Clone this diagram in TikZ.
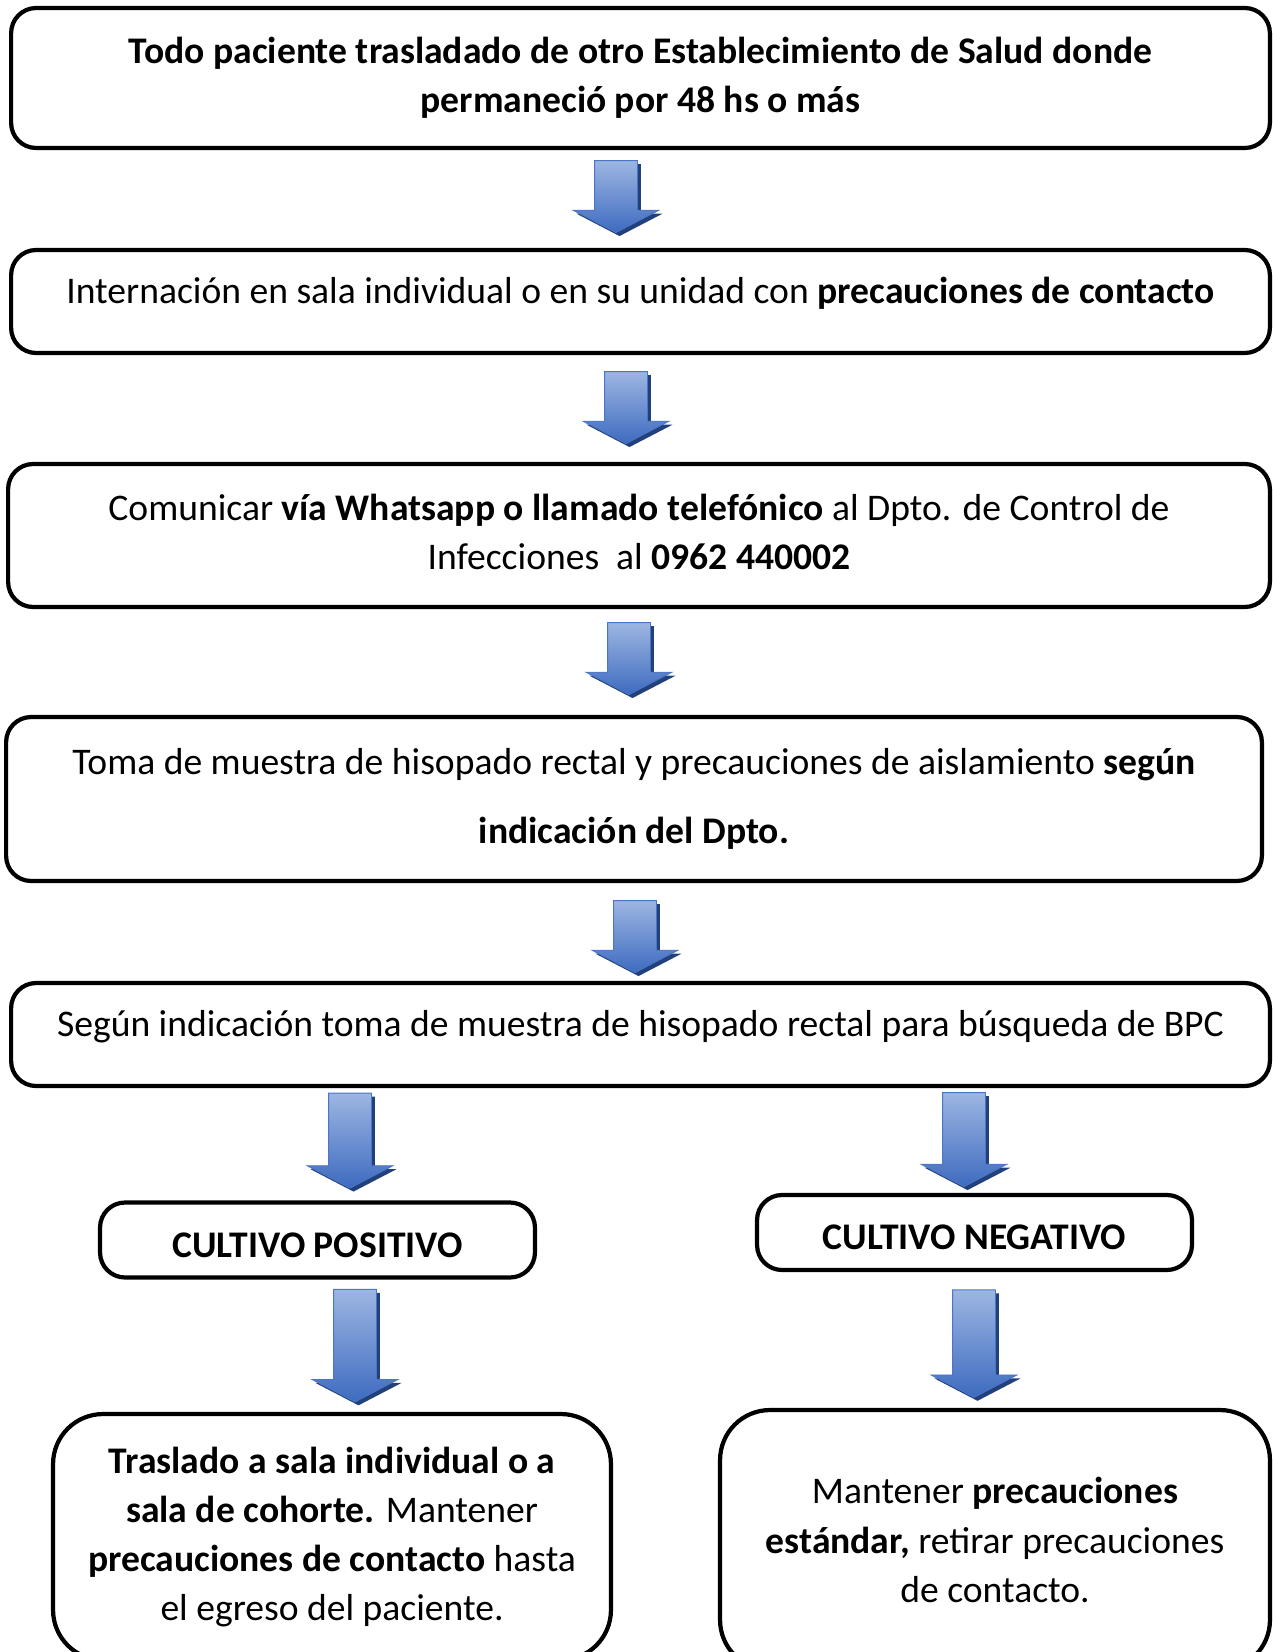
\documentclass[tikz,border=0pt]{standalone}
\usepackage{fontspec}
\setmainfont{Carlito}
\usepackage{tikz}
\usetikzlibrary{shapes.arrows, shadows, positioning}
\definecolor{arrowlight}{HTML}{9DB6E2}
\definecolor{arrowdark}{HTML}{3E6BC0}
\definecolor{arrowedge}{HTML}{4A76C6}
\definecolor{arrowshade}{HTML}{22407A}

\begin{document}
\begin{tikzpicture}[
    x=0.02cm, y=-0.02cm,
    every node/.style={font=\fontsize{21.4}{28}\selectfont},
    stepbox/.style={rectangle, rounded corners=0.5cm, draw=black, line width=2.4pt, fill=white, align=center},
    resultbox/.style={stepbox, minimum width=8.7cm, minimum height=1.5cm, text height=0.69cm, text depth=0pt,
        font=\fontsize{21.4}{28}\selectfont\bfseries},
    endbox/.style={stepbox, rounded corners=1cm, minimum width=11cm, minimum height=5.1cm},
    flowarrow/.style={single arrow, rotate=-90, inner xsep=0pt, inner ysep=0.42cm, minimum height=#1,
        minimum width=1.7cm, single arrow head extend=0.43cm, single arrow tip angle=125,
        top color=arrowlight, bottom color=arrowdark, draw=arrowedge, line width=0.5pt,
        drop shadow={shadow xshift=0.07cm, shadow yshift=-0.07cm, fill=arrowshade, opacity=1}}
]
\clip (0,0) rectangle (1273,1652);

% Main steps
\node[stepbox, minimum width=25.18cm, minimum height=2.8cm] (trasl) at (640.5,78)
    {\bfseries Todo paciente trasladado de otro Establecimiento de Salud donde\\ \bfseries permaneció por 48 hs o más};
\node[stepbox, minimum width=25.18cm, minimum height=2.06cm, text depth=0.45cm] (intern) at (640.5,301.5)
    {Internación en sala individual o en su unidad con \textbf{precauciones de contacto}};
\node[stepbox, minimum width=25.24cm, minimum height=2.86cm, text depth=0.14cm] (comun) at (639,535.5)
    {Comunicar \textbf{vía Whatsapp o llamado telefónico} al Dpto. de Control de\\ Infecciones~ al \textbf{0962 440002}};
\node[stepbox, minimum width=25.12cm, minimum height=3.28cm] (toma) at (634,799)
    {Toma de muestra de hisopado rectal y precauciones de aislamiento \textbf{según}\\[0.4cm] \textbf{indicación del Dpto.}};
\node[stepbox, minimum width=25.18cm, minimum height=2.06cm, text depth=0.45cm] (bpc) at (640.5,1034.5)
    {Según indicación toma de muestra de hisopado rectal para búsqueda de BPC};

% Results
\node[resultbox] (pos) at (317.5,1240) {CULTIVO POSITIVO};
\node[resultbox] (neg) at (974.5,1232.5) {CULTIVO NEGATIVO};

% Actions
\node[endbox, minimum width=11.16cm, minimum height=4.92cm] (cohorte) at (332,1537)
    {\textbf{Traslado a sala individual o a}\\ \textbf{sala de cohorte.} Mantener\\ \textbf{precauciones de contacto} hasta\\ el egreso del paciente.};
\node[endbox, minimum width=11cm, minimum height=5.2cm] (estandar) at (995,1540)
    {Mantener \textbf{precauciones}\\ \textbf{estándar,} retirar precauciones\\ de contacto.};

% Arrows
\node[flowarrow=1.44cm] (a1) at (616,191) {};
\node[flowarrow=1.44cm] (a2) at (626,402) {};
\node[flowarrow=1.44cm] (a3) at (629,653) {};
\node[flowarrow=1.44cm] (a4) at (635,931) {};
\node[flowarrow=1.9cm] (a5) at (350,1135) {};
\node[flowarrow=1.88cm] (a6) at (964,1134) {};
\node[flowarrow=2.25cm] (a7) at (355,1340) {};
\node[flowarrow=2.15cm] (a8) at (974,1338) {};
\end{tikzpicture}
\end{document}
